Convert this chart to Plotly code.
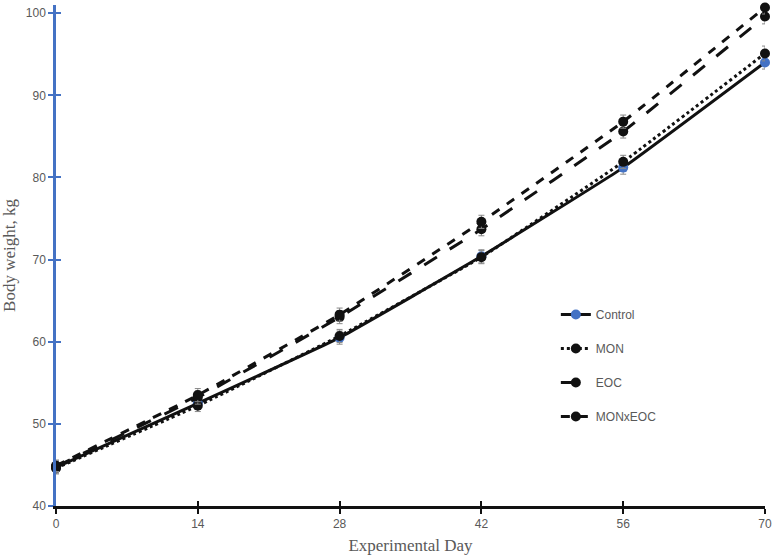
import plotly.graph_objects as go

days = [0, 14, 28, 42, 56, 70]
control = [44.7, 52.5, 60.5, 70.4, 81.2, 94.0]
mon = [44.6, 52.2, 60.7, 70.3, 81.9, 95.1]
eoc = [44.8, 53.2, 63.0, 73.7, 85.6, 99.6]
monxeoc = [44.9, 53.5, 63.3, 74.6, 86.8, 100.7]
control_err = [0.7, 0.7, 0.8, 0.8, 0.8, 0.8]
mon_err = [0.7, 0.7, 0.8, 0.8, 0.8, 0.9]
eoc_err = [0.7, 0.8, 0.8, 0.8, 0.8, 0.9]
monxeoc_err = [0.7, 0.8, 0.8, 0.8, 0.8, 0.8]
y_ticks = [40, 50, 60, 70, 80, 90, 100]

names = ["Control", "MON", "EOC", "MONxEOC"]
series = [control, mon, eoc, monxeoc]
errs = [control_err, mon_err, eoc_err, monxeoc_err]
dashes = ["solid", "dot", "longdash", "dash"]
mcolors = ["#4472C4", "#111111", "#111111", "#111111"]

fig = go.Figure()
for i, (n, s, e, d, mc) in enumerate(zip(names, series, errs, dashes, mcolors)):
    fig.add_trace(go.Scatter(
        x=days, y=s, name=n, mode="lines+markers",
        line=dict(color="#111111", width=3, dash=d, shape="spline", smoothing=0.3),
        marker=dict(color=mc, size=10),
        error_y=dict(type="data", array=e, color="#888888", thickness=1, width=3),
        legendgroup=n, cliponaxis=False,
    ))

serif = "Liberation Serif, Times New Roman, serif"
fig.update_layout(
    width=776, height=558,
    margin=dict(l=56, r=11, t=5, b=52, autoexpand=False),
    plot_bgcolor="white", paper_bgcolor="white",
    font=dict(family="Liberation Sans, Arial, sans-serif", size=12, color="#595959"),
    showlegend=True,
    legend=dict(x=0.705, y=0.411, xanchor="left", yanchor="top",
                bgcolor="rgba(0,0,0,0)", tracegroupgap=15,
                font=dict(size=12, color="#595959")),
    xaxis=dict(range=[0, 70], tickvals=days, showgrid=False, zeroline=False, automargin=False,
               showline=True, linecolor="#111111", linewidth=2.5,
               ticks="outside", ticklen=5, tickcolor="#111111", tickwidth=2,
               title=dict(text="Experimental Day",
                          font=dict(family=serif, size=17, color="#595959"),
                          standoff=9)),
    yaxis=dict(range=[40, 101], tickvals=y_ticks, showgrid=False, zeroline=False, automargin=False,
               showline=True, linecolor="#4472C4", linewidth=2.5,
               ticks="outside", ticklen=5, tickcolor="#4472C4", tickwidth=2,
               title=dict(text="Body weight, kg",
                          font=dict(family=serif, size=17, color="#595959"),
                          standoff=8)),
    yaxis2=dict(range=[40, 101], tickvals=y_ticks, overlaying="y", side="left", automargin=False,
                showgrid=False, zeroline=False, showticklabels=False,
                ticks="inside", ticklen=5, tickcolor="#4472C4", tickwidth=2),
    xaxis2=dict(range=[0, 70], tickvals=days, overlaying="x", side="bottom", automargin=False,
                showgrid=False, zeroline=False, showticklabels=False,
                ticks="inside", ticklen=5, tickcolor="#111111", tickwidth=2),
)
fig.add_trace(go.Scatter(x=[None], y=[None], xaxis="x2", yaxis="y2", showlegend=False, hoverinfo="skip"))
fig.write_html("out.html", config={"displayModeBar": False},
               post_script="document.body.style.margin='0';document.body.style.overflow='hidden';")
